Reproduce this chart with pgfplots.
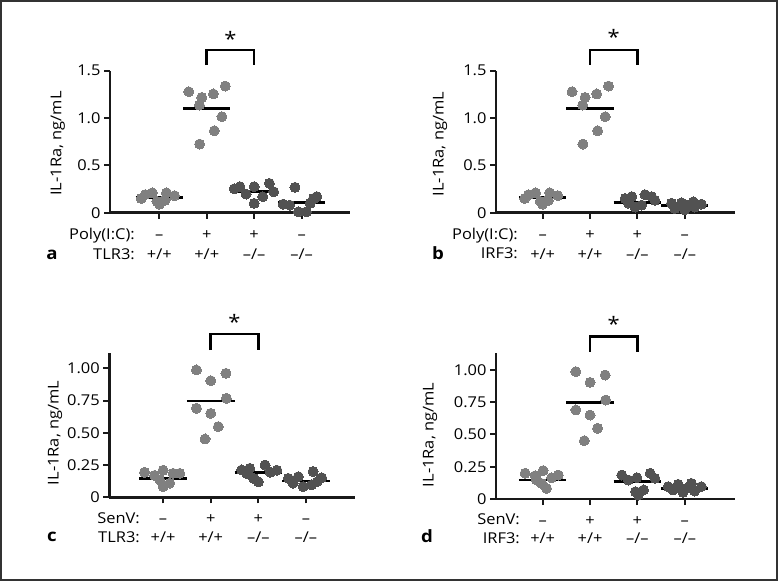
\documentclass[border=0pt]{standalone}
\usepackage{pgfplots}
\pgfplotsset{compat=1.18}
\usepackage{fontspec}
\setmainfont{Open Sans}[FakeStretch=1.1]
\definecolor{lightc}{RGB}{128,128,128}
\definecolor{darkc}{RGB}{82,82,82}
\definecolor{axisc}{RGB}{25,25,25}
\newcommand{\fs}{\fontsize{15}{18}\selectfont}
\tikzset{lab/.style={font=\fs, anchor=base, inner sep=0pt}}
\pgfplotsset{
  panel/.style={
    scale only axis, axis x line=bottom, axis y line=left,
    axis line style={-, line width=2.4bp, color=axisc},
    xtick={0,1,2,3}, xticklabels={{},{},{},{}}, tick align=outside,
    major tick length=6bp,
    tick style={line width=2bp, color=axisc},
    ymin=0, clip=false,
    /pgf/number format/assume math mode=true,
    tick label style={font=\fs},
    label style={font=\fs},
    ylabel={IL-1Ra, ng/mL},
  },
  lpt/.style={only marks, color=lightc, mark=*, mark size=5bp, mark options={draw=lightc, fill=lightc, line width=0pt}},
  dpt/.style={only marks, color=darkc, mark=*, mark size=5bp, mark options={draw=darkc, fill=darkc, line width=0pt}},
  mline/.style={black, line width=2.6bp, no marks},
}
\begin{document}
\begin{tikzpicture}
\useasboundingbox (0bp,0bp) rectangle (778bp,581bp);
\draw[line width=2bp, color=black!80] (1bp,1bp) rectangle (777bp,580bp);

% ---------- panel a ----------
\begin{axis}[panel, at={(110bp,368.3bp)}, anchor=south west,
  width=240bp, height=142bp, xmin=-1.04, xmax=4.02, ymax=1.5,
  ytick={0,0.5,1,1.5}, yticklabels={0,0.5,1.0,1.5},
  ylabel style={at={(axis description cs:-0.217,0.487)}, anchor=center}]
\addplot[lpt] coordinates {(-0.3,0.19) (-0.15,0.21) (0.15,0.21) (0.32,0.18) (-0.38,0.15) (-0.05,0.12) (0.0,0.09) (0.12,0.13)};
\addplot[lpt] coordinates {(0.62,1.278) (0.894,1.218) (1.14,1.254) (1.39,1.338) (0.845,1.137) (1.32,1.014) (1.16,0.866) (0.85,0.725)};
\addplot[dpt] coordinates {(1.7,0.275) (2.0,0.275) (2.32,0.31) (1.83,0.197) (2.18,0.169) (2.0,0.099) (2.41,0.222) (1.58,0.253)};
\addplot[dpt] coordinates {(2.86,0.268) (3.25,0.15) (3.32,0.17) (2.75,0.08) (2.93,0.01) (3.1,0.01) (3.18,0.1) (2.61,0.09)};
\addplot[mline] coordinates {(-0.5,0.162) (0.5,0.162)};
\addplot[mline] coordinates {(0.5,1.102) (1.5,1.102)};
\addplot[mline] coordinates {(1.5,0.225) (2.5,0.225)};
\addplot[mline] coordinates {(2.5,0.106) (3.5,0.106)};
\addplot[mline] coordinates {(1,1.56) (1,1.72) (2,1.72) (2,1.56)};
\node[font=\fontsize{20}{20}\selectfont] at (axis cs:1.5,1.84) {*};
\node[lab] at (axis cs:0,0) [yshift=-27.3bp] {–};
\node[lab] at (axis cs:1,0) [yshift=-27.3bp] {+};
\node[lab] at (axis cs:2,0) [yshift=-27.3bp] {+};
\node[lab] at (axis cs:3,0) [yshift=-27.3bp] {–};
\node[lab] at (axis cs:0,0) [yshift=-46.6bp] {+/+};
\node[lab] at (axis cs:1,0) [yshift=-46.6bp] {+/+};
\node[lab] at (axis cs:2,0) [yshift=-46.6bp] {–/–};
\node[lab] at (axis cs:3,0) [yshift=-46.6bp] {–/–};
\end{axis}
\node[font=\fs, anchor=base east, inner sep=0pt] at (135bp,341bp) {Poly(I:C):};
\node[font=\fs, anchor=base east, inner sep=0pt] at (135bp,321.7bp) {TLR3:};
\node[font=\bfseries\fontsize{17}{17}\selectfont, anchor=base, inner sep=0pt] at (52bp,321bp) {a};

% ---------- panel b ----------
\begin{axis}[panel, at={(496bp,368.3bp)}, anchor=south west,
  width=239bp, height=142bp, xmin=-0.985, xmax=4.06, ymax=1.5,
  ytick={0,0.5,1,1.5}, yticklabels={0,0.5,1.0,1.5},
  ylabel style={at={(axis description cs:-0.234,0.484)}, anchor=center}]
\addplot[lpt] coordinates {(-0.3,0.19) (-0.15,0.21) (0.15,0.21) (0.32,0.18) (-0.38,0.15) (-0.05,0.12) (0.0,0.09) (0.12,0.13)};
\addplot[lpt] coordinates {(0.62,1.278) (0.894,1.218) (1.14,1.254) (1.39,1.338) (0.845,1.137) (1.32,1.014) (1.16,0.866) (0.85,0.725)};
\addplot[dpt] coordinates {(1.74,0.15) (1.88,0.17) (2.16,0.19) (2.3,0.17) (1.95,0.06) (1.81,0.1) (2.09,0.08) (2.37,0.13)};
\addplot[dpt] coordinates {(2.72,0.1) (2.93,0.105) (3.18,0.115) (3.35,0.09) (2.79,0.045) (3.0,0.03) (3.21,0.06) (3.07,0.08)};
\addplot[mline] coordinates {(-0.5,0.162) (0.5,0.162)};
\addplot[mline] coordinates {(0.5,1.102) (1.5,1.102)};
\addplot[mline] coordinates {(1.5,0.11) (2.5,0.11)};
\addplot[mline] coordinates {(2.5,0.074) (3.5,0.074)};
\addplot[mline] coordinates {(1,1.565) (1,1.72) (2,1.72) (2,1.565)};
\node[font=\fontsize{20}{20}\selectfont] at (axis cs:1.5,1.86) {*};
\node[lab] at (axis cs:0,0) [yshift=-27.3bp] {–};
\node[lab] at (axis cs:1,0) [yshift=-27.3bp] {+};
\node[lab] at (axis cs:2,0) [yshift=-27.3bp] {+};
\node[lab] at (axis cs:3,0) [yshift=-27.3bp] {–};
\node[lab] at (axis cs:0,0) [yshift=-46.6bp] {+/+};
\node[lab] at (axis cs:1,0) [yshift=-46.6bp] {+/+};
\node[lab] at (axis cs:2,0) [yshift=-46.6bp] {–/–};
\node[lab] at (axis cs:3,0) [yshift=-46.6bp] {–/–};
\end{axis}
\node[font=\fs, anchor=base east, inner sep=0pt] at (518bp,341bp) {Poly(I:C):};
\node[font=\fs, anchor=base east, inner sep=0pt] at (518bp,322.7bp) {IRF3:};
\node[font=\bfseries\fontsize{17}{17}\selectfont, anchor=base, inner sep=0pt] at (438bp,321.7bp) {b};

% ---------- panel c ----------
\begin{axis}[panel, at={(109.3bp,83.7bp)}, anchor=south west,
  width=245.7bp, height=144.5bp, xmin=-1.13, xmax=4.03, ymax=1.12,
  ytick={0,0.25,0.5,0.75,1}, yticklabels={0,0.25,0.50,0.75,1.00},
  ylabel style={at={(axis description cs:-0.221,0.446)}, anchor=center}]
\addplot[lpt] coordinates {(-0.39,0.194) (-0.18,0.17) (0,0.21) (0.21,0.186) (0.35,0.186) (-0.07,0.134) (0,0.083) (0.14,0.11)};
\addplot[lpt] coordinates {(0.7,0.987) (1.0,0.904) (1.32,0.961) (1.33,0.767) (0.7,0.69) (1.0,0.651) (1.16,0.548) (0.88,0.452)};
\addplot[dpt] coordinates {(1.65,0.212) (1.82,0.225) (2.14,0.25) (2.39,0.21) (1.9,0.147) (2.0,0.12) (1.75,0.186) (2.25,0.194)};
\addplot[dpt] coordinates {(2.63,0.147) (2.84,0.16) (3.15,0.2) (3.33,0.152) (2.73,0.11) (2.94,0.083) (3.12,0.096) (3.23,0.12)};
\addplot[mline] coordinates {(-0.5,0.147) (0.5,0.147)};
\addplot[mline] coordinates {(0.5,0.747) (1.5,0.747)};
\addplot[mline] coordinates {(1.5,0.194) (2.5,0.194)};
\addplot[mline] coordinates {(2.5,0.127) (3.5,0.127)};
\addplot[mline] coordinates {(1,1.14) (1,1.266) (2,1.266) (2,1.14)};
\node[font=\fontsize{20}{20}\selectfont] at (axis cs:1.5,1.36) {*};
\node[lab] at (axis cs:0,0) [yshift=-26bp] {–};
\node[lab] at (axis cs:1,0) [yshift=-26bp] {+};
\node[lab] at (axis cs:2,0) [yshift=-26bp] {+};
\node[lab] at (axis cs:3,0) [yshift=-26bp] {–};
\node[lab] at (axis cs:0,0) [yshift=-45bp] {+/+};
\node[lab] at (axis cs:1,0) [yshift=-45bp] {+/+};
\node[lab] at (axis cs:2,0) [yshift=-45bp] {–/–};
\node[lab] at (axis cs:3,0) [yshift=-45bp] {–/–};
\end{axis}
\node[font=\fs, anchor=base east, inner sep=0pt] at (140bp,57.7bp) {SenV:};
\node[font=\fs, anchor=base east, inner sep=0pt] at (140bp,38.7bp) {TLR3:};
\node[font=\bfseries\fontsize{17}{17}\selectfont, anchor=base, inner sep=0pt] at (52bp,39.3bp) {c};

% ---------- panel d ----------
\begin{axis}[panel, at={(496bp,82bp)}, anchor=south west,
  width=239bp, height=145.8bp, xmin=-0.985, xmax=4.06, ymax=1.13,
  ytick={0,0.25,0.5,0.75,1}, yticklabels={0,0.25,0.50,0.75,1.00},
  ylabel style={at={(axis description cs:-0.276,0.44)}, anchor=center}]
\addplot[lpt] coordinates {(-0.37,0.2) (-0.16,0.18) (0.01,0.22) (0.33,0.186) (0.19,0.165) (-0.02,0.12) (0.08,0.083) (-0.13,0.147)};
\addplot[lpt] coordinates {(0.7,0.987) (1.0,0.904) (1.32,0.961) (1.33,0.767) (0.7,0.69) (1.0,0.651) (1.16,0.548) (0.88,0.452)};
\addplot[dpt] coordinates {(1.67,0.186) (1.81,0.147) (1.99,0.165) (2.27,0.2) (2.37,0.16) (1.96,0.057) (2.13,0.07) (2.02,0.031)};
\addplot[dpt] coordinates {(2.65,0.096) (2.86,0.114) (3.14,0.121) (3.35,0.096) (2.75,0.07) (2.96,0.052) (3.21,0.062) (3.04,0.083)};
\addplot[mline] coordinates {(-0.5,0.147) (0.5,0.147)};
\addplot[mline] coordinates {(0.5,0.747) (1.5,0.747)};
\addplot[mline] coordinates {(1.5,0.134) (2.5,0.134)};
\addplot[mline] coordinates {(2.5,0.083) (3.5,0.083)};
\addplot[mline] coordinates {(1,1.14) (1,1.258) (2,1.258) (2,1.14)};
\node[font=\fontsize{20}{20}\selectfont] at (axis cs:1.5,1.36) {*};
\node[lab] at (axis cs:0,0) [yshift=-26bp] {–};
\node[lab] at (axis cs:1,0) [yshift=-26bp] {+};
\node[lab] at (axis cs:2,0) [yshift=-26bp] {+};
\node[lab] at (axis cs:3,0) [yshift=-26bp] {–};
\node[lab] at (axis cs:0,0) [yshift=-44.3bp] {+/+};
\node[lab] at (axis cs:1,0) [yshift=-44.3bp] {+/+};
\node[lab] at (axis cs:2,0) [yshift=-44.3bp] {–/–};
\node[lab] at (axis cs:3,0) [yshift=-44.3bp] {–/–};
\end{axis}
\node[font=\fs, anchor=base east, inner sep=0pt] at (520bp,56bp) {SenV:};
\node[font=\fs, anchor=base east, inner sep=0pt] at (520bp,37.7bp) {IRF3:};
\node[font=\bfseries\fontsize{17}{17}\selectfont, anchor=base, inner sep=0pt] at (427bp,38.3bp) {d};
\end{tikzpicture}
\end{document}
